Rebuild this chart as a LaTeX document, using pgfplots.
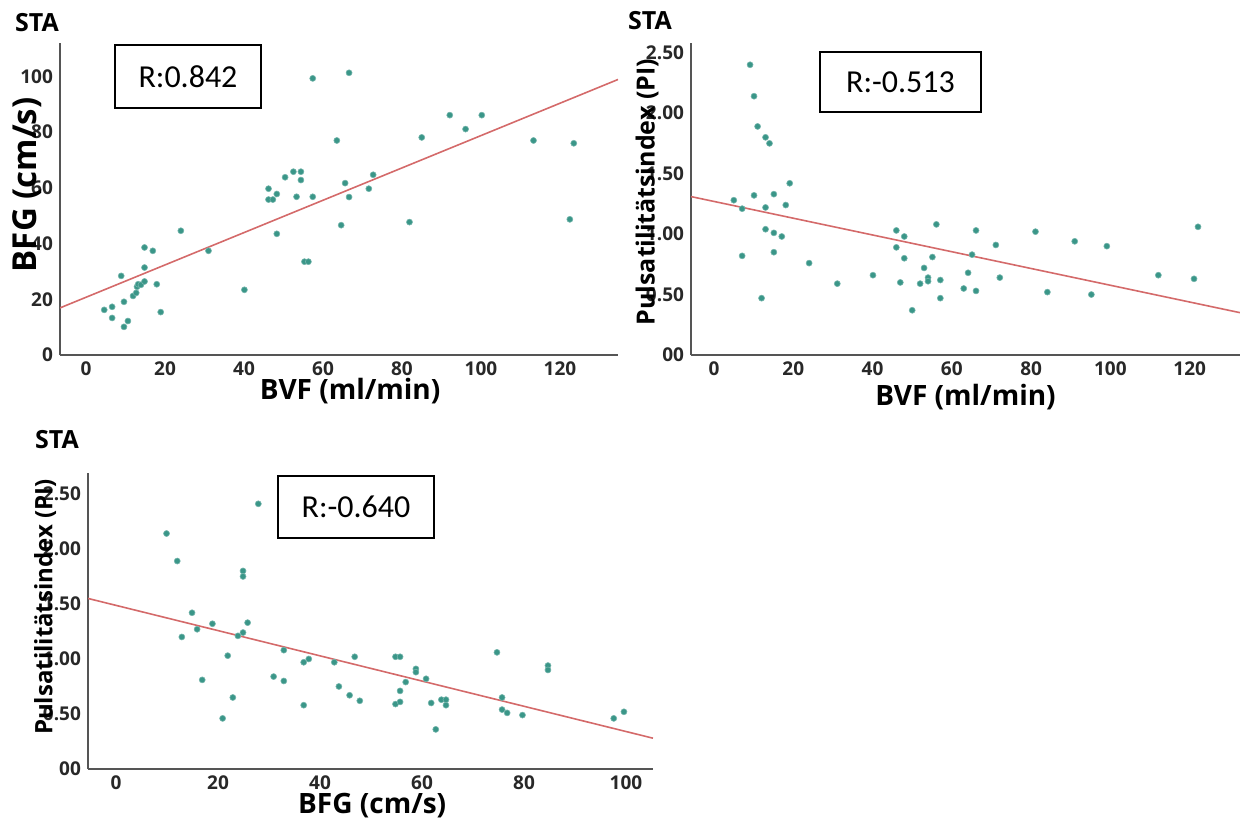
\documentclass[border=0pt]{standalone}
\usepackage{pgfplots}
\pgfplotsset{compat=1.18}
\usepackage{fontspec}
\setmainfont{Open Sans}
\newfontfamily\rfont{Carlito}

\definecolor{dotc}{RGB}{58,150,136}
\definecolor{fitc}{RGB}{212,106,106}
\definecolor{axc}{RGB}{85,85,85}
\definecolor{tickc}{RGB}{40,40,40}

\pgfplotsset{
  stapanel/.style={
    scale only axis,
    anchor=south west,
    axis x line=bottom, axis y line=left,
    axis line style={-, draw=axc, line width=1pt},
    major tick length=0pt,
    /pgf/number format/assume math mode=true,
    tick label style={font=\bfseries\fontsize{9.5}{9.5}\selectfont, text=tickc},
    label style={font=\bfseries\fontsize{14}{14}\selectfont, text=black},
    clip=true,
  },
  dots/.style={only marks, mark=*, mark size=1.5pt,
    mark options={draw=dotc!70!white, fill=dotc, line width=0.3pt}},
  fit/.style={no marks, draw=fitc, line width=0.8pt},
}

\begin{document}
\begin{tikzpicture}
\useasboundingbox (0,0) rectangle (620pt,410pt);

% ---------- panel 1: BFG vs BVF ----------
\begin{axis}[stapanel,
  at={(30pt,232.5pt)}, width=279pt, height=156pt,
  xmin=-6.6, xmax=134.7, ymin=0, ymax=112,
  xtick={0,20,...,120}, ytick={0,20,...,100},
  xlabel={BVF (ml/min)}, ylabel={BFG (cm/s)},
  xlabel style={at={(axis description cs:0.52,-0.115)}, anchor=center},
  ylabel style={at={(axis description cs:-0.059,0.545)}, anchor=center,
    font=\bfseries\fontsize{16.5}{16.5}\selectfont},
]
\addplot[fit] coordinates {(-6.6,16.9) (134.7,98.9)};
\addplot[dots] coordinates {
  (4.6,16.2) (6.6,17.3) (6.6,13.3) (8.9,28.4) (9.6,19.1) (9.6,10.1)
  (10.6,12.2) (11.9,21.2) (12.7,22.3) (12.9,24.5) (13.2,25.4) (13.9,25.2)
  (14.8,26.4) (14.8,38.6) (14.8,31.4) (16.9,37.4) (17.9,25.4) (18.9,15.4)
  (24.0,44.6) (31.0,37.4) (40.1,23.4) (46.2,59.7) (46.2,55.8) (47.3,55.8)
  (48.3,57.8) (48.3,43.5) (50.4,63.8) (52.5,65.8) (54.4,65.8) (54.4,62.8)
  (53.3,56.8) (55.3,33.5) (56.3,33.5) (57.4,56.8) (57.4,99.3)
  (66.6,101.3) (63.5,77.0) (64.6,46.6) (65.6,61.7) (66.6,56.7) (71.6,59.7)
  (72.7,64.7) (81.9,47.7) (85.0,78.1) (92.1,86.1) (96.1,81.1) (100.2,86.1)
  (113.3,77.0) (122.5,48.7) (123.5,76.0)
};
\end{axis}

% ---------- panel 2: PI vs BVF ----------
\begin{axis}[stapanel,
  at={(345.5pt,232.5pt)}, width=274.5pt, height=156pt,
  xmin=-5.8, xmax=132.7, ymin=0, ymax=2.58,
  xtick={0,20,...,120},
  ytick={0,0.5,1,1.5,2,2.5},
  yticklabels={00,0.50,1.00,1.50,2.00,2.50},
  xlabel={BVF (ml/min)}, ylabel={Pulsatilitätsindex (PI)},
  xlabel style={at={(axis description cs:0.50,-0.135)}, anchor=center},
  ylabel style={at={(axis description cs:-0.080,0.522)}, anchor=center,
    font=\bfseries\fontsize{12.5}{12.5}\selectfont},
]
\addplot[fit] coordinates {(-5.8,1.31) (132.7,0.35)};
\addplot[dots] coordinates {
  (9.1,2.40) (10.1,2.14) (11.0,1.89) (13.0,1.80) (14.0,1.75) (19.1,1.42)
  (5.0,1.28) (7.1,1.21) (10.1,1.32) (13.0,1.22) (15.1,1.33) (18.1,1.24)
  (13.0,1.04) (15.1,1.01) (17.1,0.98) (15.1,0.85) (7.1,0.82) (12.0,0.47)
  (24.0,0.76) (31.1,0.59) (40.1,0.66) (46.0,1.03) (48.0,0.98) (46.0,0.89)
  (48.0,0.80) (47.0,0.60) (50.0,0.37) (53.0,0.72) (52.0,0.59)
  (54.0,0.64) (54.0,0.61) (55.1,0.81) (56.1,1.08) (57.1,0.62) (57.1,0.47)
  (63.0,0.55) (64.1,0.68) (65.1,0.83) (66.1,1.03) (66.1,0.53) (71.1,0.91)
  (72.1,0.64) (81.1,1.02) (84.1,0.52) (91.0,0.94) (95.2,0.50) (99.1,0.90)
  (112.1,0.66) (121.1,0.63) (122.1,1.06)
};
\end{axis}

% ---------- panel 3: PI vs BFG ----------
\begin{axis}[stapanel,
  at={(44pt,25.5pt)}, width=282.5pt, height=148pt,
  xmin=-5.5, xmax=105.3, ymin=0, ymax=2.69,
  xtick={0,20,...,100},
  ytick={0,0.5,1,1.5,2,2.5},
  yticklabels={00,0.50,1.00,1.50,2.00,2.50},
  xlabel={BFG (cm/s)}, ylabel={Pulsatilitätsindex (PI)},
  xlabel style={at={(axis description cs:0.503,-0.122)}, anchor=center},
  ylabel style={at={(axis description cs:-0.076,0.547)}, anchor=center,
    font=\bfseries\fontsize{12}{12}\selectfont},
]
\addplot[fit] coordinates {(-5.5,1.55) (105.3,0.28)};
\addplot[dots] coordinates {
  (9.9,2.14) (12.0,1.89) (27.9,2.41) (24.9,1.80) (24.9,1.75) (14.9,1.42)
  (15.9,1.27) (12.9,1.20) (18.9,1.32) (23.9,1.21) (24.9,1.24) (25.8,1.33)
  (21.9,1.03) (16.9,0.81) (22.9,0.65) (20.9,0.46) (32.9,1.08) (30.9,0.84)
  (32.9,0.80) (36.8,0.97) (37.8,1.00) (36.8,0.58) (42.8,0.97) (43.7,0.75)
  (45.8,0.67) (46.8,1.02) (47.8,0.62) (54.8,1.02) (55.7,1.02) (58.8,0.91)
  (58.8,0.88) (60.8,0.82) (56.8,0.79) (55.7,0.71) (54.8,0.59) (55.7,0.61)
  (61.8,0.60) (63.8,0.63) (64.7,0.63) (64.7,0.58) (62.7,0.36) (74.7,1.06)
  (75.7,0.65) (75.7,0.54) (76.7,0.51) (79.7,0.49) (84.7,0.94) (84.7,0.90)
  (97.6,0.46) (99.6,0.52)
};
\end{axis}

% ---------- panel titles ----------
\node[font=\bfseries\fontsize{12.5}{12.5}\selectfont, anchor=center] at (18.5pt,398.5pt) {STA};
\node[font=\bfseries\fontsize{12.5}{12.5}\selectfont, anchor=center] at (325pt,399.5pt) {STA};
\node[font=\bfseries\fontsize{12.5}{12.5}\selectfont, anchor=center] at (28.5pt,190pt) {STA};

% ---------- correlation boxes ----------
\node[draw=black, line width=1pt, minimum width=73pt, minimum height=31.5pt,
  inner sep=0pt, font=\rfont\fontsize{16}{16}\selectfont] at (94pt,371.75pt) {R:0.842};
\node[draw=black, line width=1pt, minimum width=80.5pt, minimum height=30pt,
  inner sep=0pt, font=\rfont\fontsize{16}{16}\selectfont] at (450.25pt,369pt) {R:-0.513};
\node[draw=black, line width=1pt, minimum width=78pt, minimum height=31pt,
  inner sep=0pt, font=\rfont\fontsize{16}{16}\selectfont] at (178pt,156.5pt) {R:-0.640};
\end{tikzpicture}
\end{document}
